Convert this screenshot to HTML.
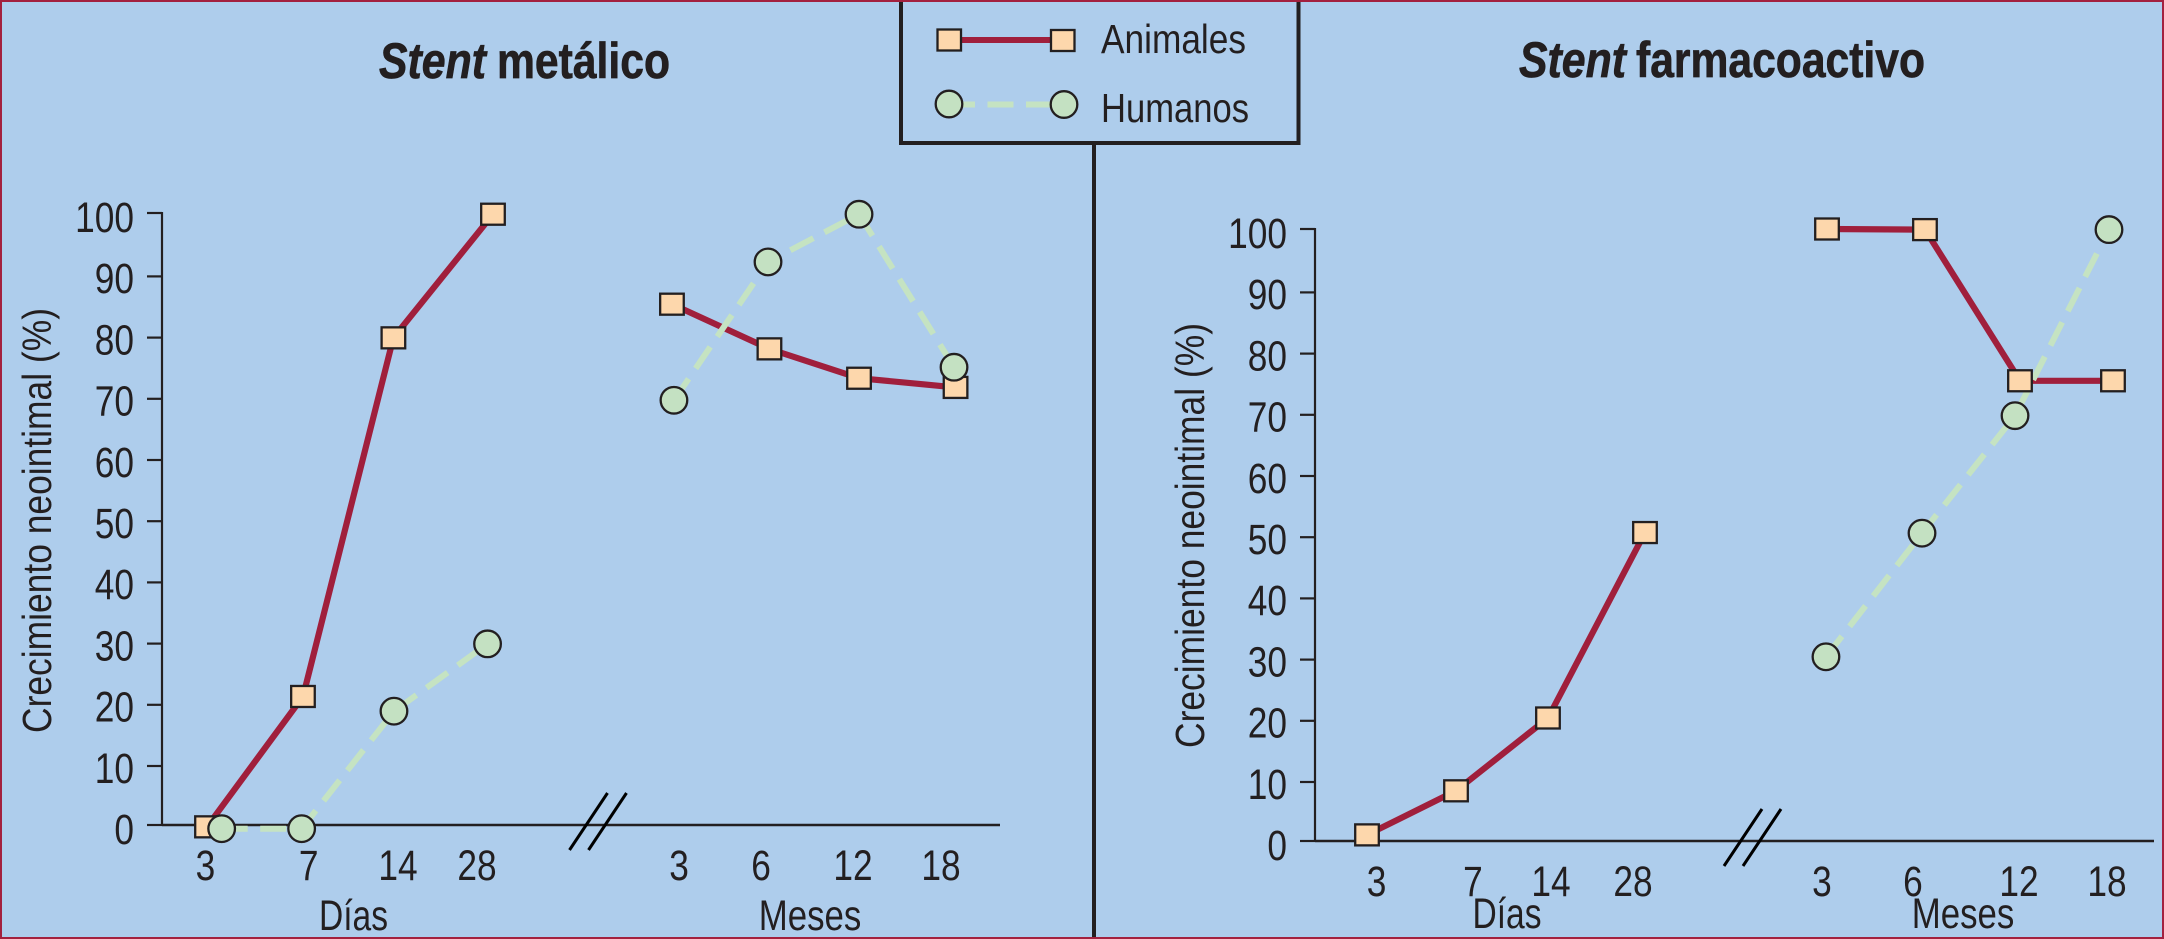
<!DOCTYPE html>
<html lang="es">
<head>
<meta charset="utf-8">
<title>Crecimiento neointimal</title>
<style>
html,body{margin:0;padding:0;background:#aecdec;}
svg{display:block;}
text{font-family:"Liberation Sans",sans-serif;fill:#231f20;}
.ttl{stroke:#231f20;stroke-width:0.7px;}
</style>
</head>
<body>
<svg id="chart" xmlns="http://www.w3.org/2000/svg" width="2164" height="939" viewBox="0 0 2164 939">
  <rect x="0" y="0" width="2164" height="939" fill="#aecdec"/>
  <rect x="1" y="1" width="2162" height="937" fill="none" stroke="#a3213f" stroke-width="2"/>
  <line x1="1094" y1="143" x2="1094" y2="937" stroke="#231f20" stroke-width="4"/>

  <g>
    <text class="ttl" x="379" y="78" font-size="50" font-weight="bold" font-style="italic" textLength="107" lengthAdjust="spacingAndGlyphs">Stent</text>
    <text class="ttl" x="497" y="78" font-size="50" font-weight="bold" textLength="173" lengthAdjust="spacingAndGlyphs">metálico</text>
  </g>
  <g>
    <text class="ttl" x="1519" y="77" font-size="50" font-weight="bold" font-style="italic" textLength="107" lengthAdjust="spacingAndGlyphs">Stent</text>
    <text class="ttl" x="1636" y="77" font-size="50" font-weight="bold" textLength="289" lengthAdjust="spacingAndGlyphs">farmacoactivo</text>
  </g>

  <g id="left-panel"></g>
  <g id="right-panel"></g>

  <g>
    <path d="M901 2V143H1298.5V2" fill="#aecdec" stroke="#231f20" stroke-width="4"/>
    <g>
      <line x1="949" y1="40" x2="1063" y2="40" stroke="#a01f3c" stroke-width="6"/>
      <rect x="937.5" y="29.5" width="23.5" height="21" fill="#fdd7ac" stroke="#231f20" stroke-width="2.3"/>
      <rect x="1051" y="30" width="23.5" height="21" fill="#fdd7ac" stroke="#231f20" stroke-width="2.3"/>
      <text x="1101" y="53" font-size="41" textLength="145" lengthAdjust="spacingAndGlyphs">Animales</text>
    </g>
    <g>
      <line x1="949" y1="104.5" x2="1064" y2="104.5" stroke="#c5e3c2" stroke-width="6" stroke-dasharray="26 12.5"/>
      <circle cx="949" cy="104" r="13.3" fill="#c4e1c2" stroke="#231f20" stroke-width="2.3"/>
      <circle cx="1064" cy="104.5" r="13.3" fill="#c4e1c2" stroke="#231f20" stroke-width="2.3"/>
      <text x="1101" y="122" font-size="41" textLength="148" lengthAdjust="spacingAndGlyphs">Humanos</text>
    </g>
  </g>
</svg>
<script>
// Tick labels and categories
const yTickValues = [0, 10, 20, 30, 40, 50, 60, 70, 80, 90, 100];
const xCategories = ["3", "7", "14", "28", "3", "6", "12", "18"];

// Left panel: growth values (%)
const leftAnimales = [-0.3, 21, 79.6, 99.8, 85.1, 77.8, 73, 71.5];
const leftHumanos = [-0.6, -0.6, 18.6, 29.6, 69.4, 92, 99.8, 74.8];
// Right panel: growth values (%)
const rightAnimales = [1, 8.2, 20.1, 50.4, 100, 99.9, 75.2, 75.2];
const rightHumanos = [null, null, null, null, 30.1, 50.3, 69.5, 99.9];

// Horizontal time slots (axis units)
const leftAnimalSlots = [0, 1.008, 1.958, 3.004, 4.884, 5.908, 6.849, 7.863];
const leftHumanSlots = [0.154, 0.994, 1.964, 2.947, 4.905, 5.893, 6.849, 7.847];
const leftTickSlots = [-0.016, 1.068, 2.006, 2.836, 4.958, 5.82, 6.786, 7.71];
const rightAnimalSlots = [0, 0.935, 1.901, 2.92, 4.832, 5.861, 6.859, 7.836];
const rightHumanSlots = [0, 0, 0, 0, 4.821, 5.83, 6.807, 7.794];
const rightTickSlots = [0.1, 1.113, 1.933, 2.794, 4.779, 5.735, 6.849, 7.773];

const NS = "http://www.w3.org/2000/svg";
const INK = "#231f20";

function make(parent, tag, name) {
  const el = document.createElementNS(NS, tag);
  
  
  parent.appendChild(el);
  return el;
}

function label(parent, name, str, x, y, anchor, sx) {
  const t = make(parent, "text", name);
  t.setAttribute("transform", "translate(" + x + " " + y + ") scale(" + sx + " 1)");
  t.setAttribute("text-anchor", anchor);
  t.setAttribute("font-size", "42.5");
  t.textContent = str;
  return t;
}

function seg(parent, name, x1, y1, x2, y2, w, color) {
  const l = make(parent, "line", name);
  l.setAttribute("x1", x1);
  l.setAttribute("y1", y1);
  l.setAttribute("x2", x2);
  l.setAttribute("y2", y2);
  l.setAttribute("stroke", color);
  l.setAttribute("stroke-width", w);
  return l;
}

function pathFor(xs, vals, xf, yf) {
  let d = "";
  let pen = false;
  for (let i = 0; i < vals.length; i++) {
    if (vals[i] === null || i === 4) pen = false;
    if (vals[i] === null) continue;
    d += (pen ? "L" : "M") + xf(xs[i]).toFixed(1) + " " + yf(vals[i]).toFixed(1);
    pen = true;
  }
  return d;
}

function drawPanel(cfg) {
  const g = document.getElementById(cfg.id);
  const yf = v => cfg.y0 - v * 6.12;
  const xf = s => cfg.x0 + s * 95.2;

  // Y axis: interior ticks sit about 2px low in the source artwork
  seg(g, "y-axis-line", cfg.axisX, yf(100) - 1, cfg.axisX, cfg.y0 + 1, 2.2, INK);
  yTickValues.forEach(v => {
    const tickY = yf(v) + (v > 0 && v < 100 ? 2.2 : 0);
    seg(g, "y-tick-" + v, cfg.axisX - 15, tickY, cfg.axisX, tickY, 2.2, INK);
    label(g, "y-tick-label-" + v, String(v), cfg.axisX - 28, yf(v) + 19, "end", 0.83);
  });
  const yTitle = make(g, "text", "y-axis-title");
  yTitle.setAttribute("transform", "translate(" + cfg.titleX + " " + cfg.titleBottom + ") rotate(-90)");
  yTitle.setAttribute("font-size", "41");
  yTitle.setAttribute("textLength", "425");
  yTitle.setAttribute("lengthAdjust", "spacingAndGlyphs");
  yTitle.textContent = "Crecimiento neointimal (%)";

  // X axis
  seg(g, "x-axis-line", cfg.axisX, cfg.y0, cfg.axisEnd, cfg.y0, 2.6, INK);
  xCategories.forEach((c, i) => {
    label(g, "x-tick-label-" + (i < 4 ? "dias-" : "meses-") + c, c, xf(cfg.tickSlots[i]), cfg.y0 + 55, "middle", 0.83);
  });
  label(g, "x-group-label-dias", "Días", cfg.diasX, cfg.groupY, "middle", 0.79);
  label(g, "x-group-label-meses", "Meses", cfg.mesesX, cfg.groupY, "middle", 0.82);

  // Axis break marks
  seg(g, "axis-break-mark-1", cfg.breakX, cfg.y0 + 25, cfg.breakX + 38, cfg.y0 - 32, 3, "#000");
  seg(g, "axis-break-mark-2", cfg.breakX + 19, cfg.y0 + 25, cfg.breakX + 57, cfg.y0 - 32, 3, "#000");

  // Series lines
  const red = make(g, "path", "series-line-animales");
  red.setAttribute("d", pathFor(cfg.aSlots, cfg.animales, xf, yf));
  red.setAttribute("fill", "none");
  red.setAttribute("stroke", "#a01f3c");
  red.setAttribute("stroke-width", "6.2");
  const green = make(g, "path", "series-line-humanos");
  green.setAttribute("d", pathFor(cfg.hSlots, cfg.humanos, xf, yf));
  green.setAttribute("fill", "none");
  green.setAttribute("stroke", "#c5e3c2");
  green.setAttribute("stroke-width", "6");
  green.setAttribute("stroke-dasharray", "26 12.5");

  // Markers
  cfg.animales.forEach((v, i) => {
    if (v === null) return;
    const r = make(g, "rect", "point-animales-" + (i < 4 ? "dias-" : "meses-") + xCategories[i]);
    r.setAttribute("x", xf(cfg.aSlots[i]) - 11.8);
    r.setAttribute("y", yf(v) - 10.5);
    r.setAttribute("width", "23.6");
    r.setAttribute("height", "21");
    r.setAttribute("fill", "#fdd7ac");
    r.setAttribute("stroke", INK);
    r.setAttribute("stroke-width", "2.3");
  });
  cfg.humanos.forEach((v, i) => {
    if (v === null) return;
    const c = make(g, "circle", "point-humanos-" + (i < 4 ? "dias-" : "meses-") + xCategories[i]);
    c.setAttribute("cx", xf(cfg.hSlots[i]));
    c.setAttribute("cy", yf(v));
    c.setAttribute("r", "13.3");
    c.setAttribute("fill", "#c4e1c2");
    c.setAttribute("stroke", INK);
    c.setAttribute("stroke-width", "2.3");
  });
}

drawPanel({
  id: "left-panel", x0: 207, y0: 825, axisX: 162, axisEnd: 1000,
  titleX: 51, titleBottom: 733, diasX: 353.5, mesesX: 810, groupY: 930, breakX: 569.5,
  animales: leftAnimales, humanos: leftHumanos,
  aSlots: leftAnimalSlots, hSlots: leftHumanSlots, tickSlots: leftTickSlots
});
drawPanel({
  id: "right-panel", x0: 1367, y0: 841, axisX: 1315, axisEnd: 2154,
  titleX: 1204, titleBottom: 748, diasX: 1507, mesesX: 1963, groupY: 928, breakX: 1724,
  animales: rightAnimales, humanos: rightHumanos,
  aSlots: rightAnimalSlots, hSlots: rightHumanSlots, tickSlots: rightTickSlots
});
</script>
</body>
</html>
